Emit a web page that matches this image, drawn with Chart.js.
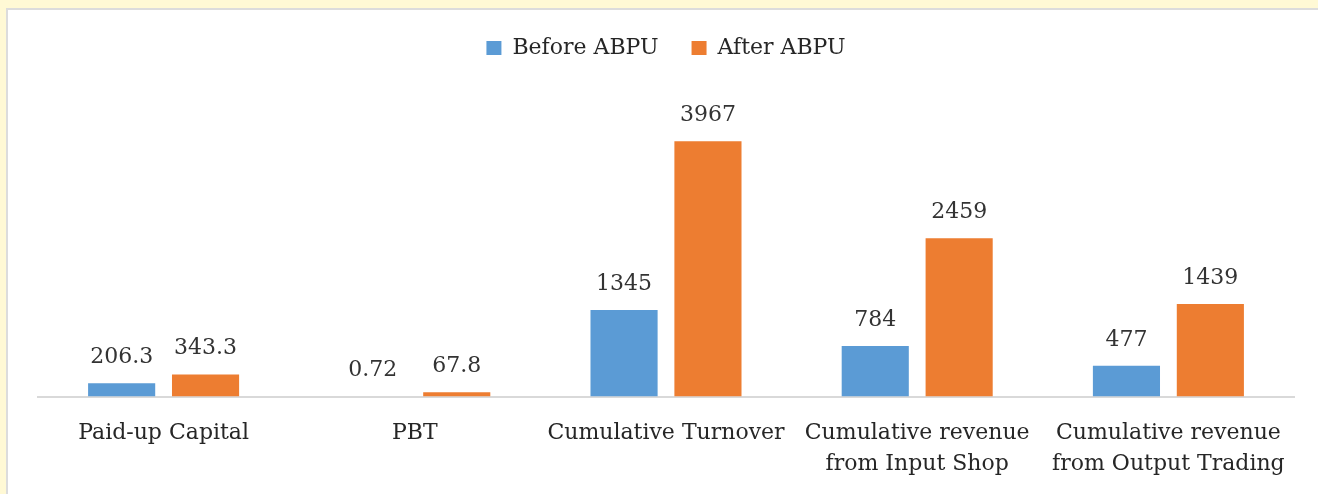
<!DOCTYPE html>
<html>
<head>
<meta charset="utf-8">
<script src="https://cdn.jsdelivr.net/npm/chart.js@4.4.1/dist/chart.umd.min.js"></script>
<style>
  html, body { margin: 0; padding: 0; }
  body { width: 1318px; height: 494px; background: #FFF9D5; position: relative; overflow: hidden; }
  #panel { position: absolute; left: 6px; top: 8px; width: 1310px; height: 486px; background: #fff;
           border-left: 2px solid #dcdcdc; border-top: 2px solid #dcdcdc; }
  #wrap { position: absolute; left: 0; top: -6px; width: 1310px; height: 498px; }
</style>
</head>
<body>
<div id="panel"><div id="wrap"><canvas id="c"></canvas></div></div>
<script>
const categories = [
  "Paid-up Capital",
  "PBT",
  "Cumulative Turnover",
  ["Cumulative revenue", "from Input Shop"],
  ["Cumulative revenue", "from Output Trading"]
];
const seriesNames = ["Before ABPU", "After ABPU"];
const beforeValues = [206.3, 0.72, 1345, 784, 477];
const afterValues = [343.3, 67.8, 3967, 2459, 1439];
const valueLabelsBefore = ["206.3", "0.72", "1345", "784", "477"];
const valueLabelsAfter = ["343.3", "67.8", "3967", "2459", "1439"];

const FONT = "'DejaVu Serif', serif";

const valueLabelPlugin = {
  id: 'valueLabels',
  afterDatasetsDraw(chart) {
    const ctx = chart.ctx;
    ctx.save();
    ctx.font = "22px " + FONT;
    ctx.fillStyle = "#333333";
    ctx.textAlign = "center";
    ctx.textBaseline = "alphabetic";
    chart.data.datasets.forEach((ds, di) => {
      const meta = chart.getDatasetMeta(di);
      meta.data.forEach((el, i) => {
        ctx.fillText(ds.valueLabels[i], el.x, el.y - 20);
      });
    });
    ctx.restore();
  }
};

const legendGapPlugin = {
  id: 'legendGap',
  beforeInit(chart) {
    const origFit = chart.legend.fit;
    chart.legend.fit = function () {
      origFit.bind(chart.legend)();
      this.height += 38;
    };
  }
};

new Chart(document.getElementById('c'), {
  type: 'bar',
  data: {
    labels: categories,
    datasets: [
      { label: seriesNames[0], data: beforeValues, valueLabels: valueLabelsBefore,
        backgroundColor: '#5B9BD5', borderWidth: 0 },
      { label: seriesNames[1], data: afterValues, valueLabels: valueLabelsAfter,
        backgroundColor: '#ED7D31', borderWidth: 0 }
    ]
  },
  options: {
    responsive: true,
    maintainAspectRatio: false,
    animation: false,
    devicePixelRatio: 1,
    datasets: { bar: { categoryPercentage: 0.668, barPercentage: 0.8 } },
    layout: { padding: { left: 30, right: 24, top: 0, bottom: 1 } },
    plugins: {
      legend: {
        position: 'top',
        labels: {
          font: { family: FONT, size: 22 },
          color: '#262626',
          boxWidth: 15,
          boxHeight: 14,
          padding: 33
        }
      },
      tooltip: { enabled: false },
      title: { display: false }
    },
    scales: {
      x: {
        grid: { display: false, drawTicks: false },
        border: { display: true, color: '#d9d9d9', width: 2 },
        ticks: {
          font: { family: FONT, size: 22, lineHeight: 1.42 },
          color: '#262626',
          padding: 21,
          maxRotation: 0,
          autoSkip: false
        }
      },
      y: {
        display: false,
        min: 0,
        max: 4500
      }
    }
  },
  plugins: [valueLabelPlugin, legendGapPlugin]
});
</script>
</body>
</html>
